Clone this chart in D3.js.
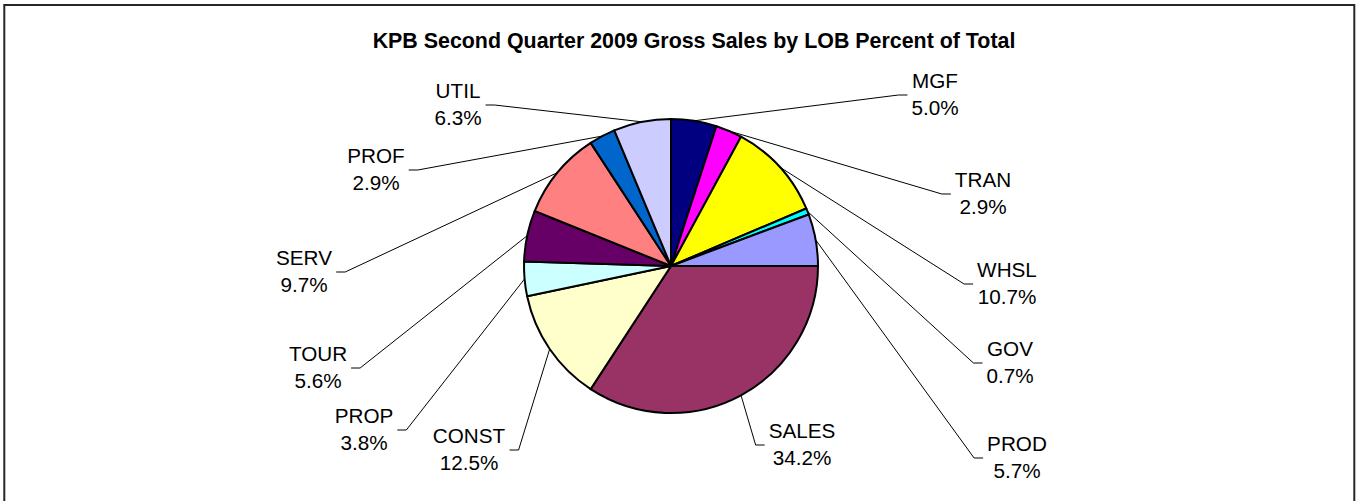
<!DOCTYPE html>
<html>
<head>
<meta charset="utf-8">
<script src="https://cdn.jsdelivr.net/npm/d3@7"></script>
<style>
  html, body { margin: 0; padding: 0; background: #fff; }
  svg { display: block; }
  text { font-family: "Liberation Sans", Arial, sans-serif; fill: #000; }
</style>
</head>
<body>
<svg id="chart" width="1356" height="501"></svg>
<script>
// ---- data ----
const title = "KPB Second Quarter 2009 Gross Sales by LOB Percent of Total";
const categories = ["MGF", "TRAN", "WHSL", "GOV", "PROD", "SALES", "CONST", "PROP", "TOUR", "SERV", "PROF", "UTIL"];
const percents = [5.0, 2.9, 10.7, 0.7, 5.7, 34.2, 12.5, 3.8, 5.6, 9.7, 2.9, 6.3];
const sliceColors = ["#000080", "#FF00FF", "#FFFF00", "#00FFFF", "#9999FF", "#993366",
                     "#FFFFCC", "#CCFFFF", "#660066", "#FF8080", "#0066CC", "#CCCCFF"];

// ---- layout (manually placed label boxes, offsets from pie centre: text centre x, first baseline y) ----
const labelOffsets = [
  [264, -178], [312, -79], [336, 11], [339, 90], [346, 185], [131, 172],
  [-202, 177], [-307, 157], [-353, 95], [-367, -1], [-295, -103], [-213, -168]
];

const W = 1356, H = 501;
const cx = 671, cy = 266, R = 147;
const svg = d3.select("#chart");

// frame
svg.append("rect")
  .attr("x", 4.3).attr("y", 5).attr("width", 1350).attr("height", 600)
  .attr("fill", "none").attr("stroke", "#262626").attr("stroke-width", 2);

// title
svg.append("text")
  .attr("x", 694).attr("y", 48)
  .attr("text-anchor", "middle")
  .attr("font-weight", "bold")
  .attr("font-size", 21.4)
  .text(title);

const data = categories.map((c, i) => ({ cat: c, value: percents[i], color: sliceColors[i], off: labelOffsets[i] }));
const pie = d3.pie().sort(null).value(d => d.value).startAngle(0).endAngle(2 * Math.PI);
const arcs = pie(data);
const arc = d3.arc().innerRadius(0).outerRadius(R);
const edge = d3.arc().innerRadius(R).outerRadius(R);

const g = svg.append("g").attr("transform", `translate(${cx},${cy})`);

g.selectAll("path.slice")
  .data(arcs)
  .join("path")
  .attr("class", "slice")
  .attr("d", arc)
  .attr("fill", d => d.data.color)
  .attr("stroke", "#000")
  .attr("stroke-width", 2)
  .attr("stroke-linejoin", "round");

const fmt = d3.format(".1f");
const lineGap = 27;

const labels = g.selectAll("g.label")
  .data(arcs)
  .join("g")
  .attr("class", "label");

labels.each(function(d) {
  const sel = d3.select(this);
  const [lx, ly] = d.data.off;
  const t = sel.append("text")
    .attr("text-anchor", "middle")
    .attr("font-size", 20.7);
  t.append("tspan").attr("x", lx).attr("y", ly).text(d.data.cat);
  t.append("tspan").attr("x", lx).attr("y", ly + lineGap).text(fmt(d.data.value) + "%");
  const bb = t.node().getBBox();
  const p = edge.centroid(d);
  const rightSide = lx > p[0];
  const ay = ly + 7;
  const ax = rightSide ? bb.x - 4 : bb.x + bb.width + 4;
  const ex = rightSide ? ax - 9 : ax + 9;
  sel.insert("path", "text")
    .attr("d", d3.line()([p, [ex, ay], [ax, ay]]))
    .attr("fill", "none")
    .attr("stroke", "#000")
    .attr("stroke-width", 1);
});
</script>
</body>
</html>
